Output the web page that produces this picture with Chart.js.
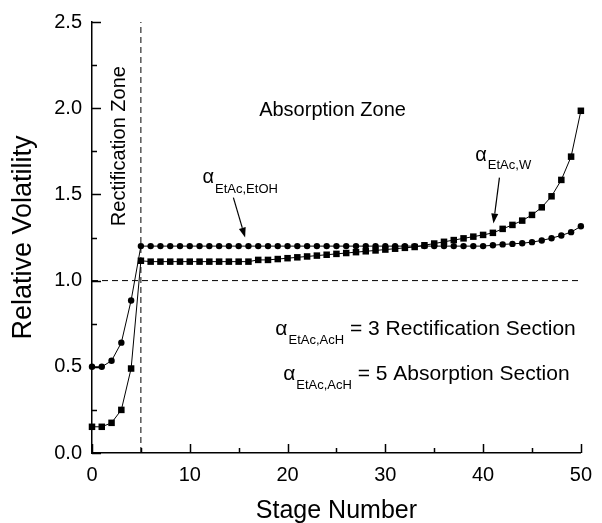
<!DOCTYPE html>
<html>
<head>
<meta charset="utf-8">
<title>Relative Volatility vs Stage Number</title>
<script src="https://cdn.jsdelivr.net/npm/chart.js@4.4.1/dist/chart.umd.min.js"></script>
<style>
  html, body { margin: 0; padding: 0; background: #fff; }
  #wrap { width: 602px; height: 523px; }
</style>
</head>
<body>
<div id="wrap"><canvas id="chart" width="602" height="523"></canvas></div>
<script>
// --- data ---
const stages = [0, 1, 2, 3, 4, 5, 6, 7, 8, 9, 10, 11, 12, 13, 14, 15, 16, 17, 18, 19, 20,
  21, 22, 23, 24, 25, 26, 27, 28, 29, 30, 31, 32, 33, 34, 35, 36, 37, 38, 39, 40,
  41, 42, 43, 44, 45, 46, 47, 48, 49, 50];

// alpha EtAc,EtOH (circles)
const alphaEtOH = [0.50, 0.50, 0.535, 0.64, 0.885, 1.20, 1.20, 1.20, 1.20, 1.20, 1.20,
  1.20, 1.20, 1.20, 1.20, 1.20, 1.20, 1.20, 1.20, 1.20, 1.20,
  1.20, 1.20, 1.20, 1.20, 1.20, 1.20, 1.20, 1.20, 1.20, 1.20,
  1.20, 1.20, 1.20, 1.20, 1.20, 1.20, 1.20, 1.20, 1.20, 1.20,
  1.205, 1.21, 1.213, 1.217, 1.223, 1.233, 1.246, 1.262, 1.281, 1.315];

// alpha EtAc,W (squares)
const alphaWater = [0.152, 0.152, 0.175, 0.25, 0.49, 1.115, 1.11, 1.11, 1.11, 1.11, 1.11,
  1.11, 1.11, 1.11, 1.11, 1.11, 1.11, 1.12, 1.12, 1.125, 1.13,
  1.135, 1.14, 1.145, 1.15, 1.155, 1.16, 1.165, 1.17, 1.175, 1.18,
  1.185, 1.19, 1.195, 1.205, 1.215, 1.225, 1.235, 1.245, 1.255, 1.265,
  1.277, 1.30, 1.323, 1.348, 1.381, 1.425, 1.489, 1.584, 1.719, 1.985];

const feedStage = 5;       // vertical dashed line
const unityAlpha = 1.0;    // horizontal dashed line

const xMajorStep = 10;
const yMajorStep = 0.5;

const FONT = '"Liberation Sans", Arial, Helvetica, sans-serif';

function toPoints(xs, ys) {
  return xs.map((x, i) => ({ x: x, y: ys[i] }));
}

// tick marks pointing into the plot, drawn at the scale's own tick positions
const innerTicks = {
  id: 'innerTicks',
  afterDraw(chart) {
    const ctx = chart.ctx;
    const area = chart.chartArea;
    const xs = chart.scales.x, ys = chart.scales.y;
    ctx.save();
    ctx.strokeStyle = '#000';
    ctx.lineWidth = 1.5;
    ctx.beginPath();
    ys.ticks.forEach(t => {
      const py = Math.round(ys.getPixelForValue(t.value)) + 0.5;
      const len = (t.value % yMajorStep === 0) ? 9 : 5;
      ctx.moveTo(area.left, py);
      ctx.lineTo(area.left + len, py);
    });
    xs.ticks.forEach(t => {
      const px = Math.round(xs.getPixelForValue(t.value)) + 0.5;
      const len = (t.value % xMajorStep === 0) ? 9 : 5;
      ctx.moveTo(px, area.bottom);
      ctx.lineTo(px, area.bottom - len);
    });
    ctx.stroke();
    ctx.restore();
  }
};

// text labels and arrows placed in data coordinates
const annotations = {
  id: 'annotations',
  afterDraw(chart) {
    const ctx = chart.ctx;
    const xs = chart.scales.x, ys = chart.scales.y;
    const px = v => xs.getPixelForValue(v);
    const py = v => ys.getPixelForValue(v);
    ctx.save();
    ctx.fillStyle = '#000';
    ctx.strokeStyle = '#000';

    // Absorption Zone
    ctx.font = '20px ' + FONT;
    ctx.textAlign = 'center';
    ctx.textBaseline = 'middle';
    ctx.fillText('Absorption Zone', px(24.6), py(1.985));

    // Rectification Zone (rotated)
    ctx.save();
    ctx.translate(px(2.8), py(1.78));
    ctx.rotate(-Math.PI / 2);
    ctx.fillText('Rectification Zone', 0, 0);
    ctx.restore();

    // alpha with subscript, then optional trailing text
    function alphaLabel(x, y, sub, tail, mainSize, subDrop) {
      ctx.textAlign = 'left';
      ctx.textBaseline = 'alphabetic';
      let cx = px(x);
      const by = py(y);
      ctx.font = mainSize + 'px ' + FONT;
      ctx.fillText('\u03B1', cx, by);
      cx += ctx.measureText('\u03B1').width + 1;
      ctx.font = '13px ' + FONT;
      ctx.fillText(sub, cx, by + subDrop);
      cx += ctx.measureText(sub).width;
      if (tail) {
        ctx.font = mainSize + 'px ' + FONT;
        ctx.fillText(tail, cx, by);
      }
    }
    alphaLabel(11.3, 1.568, 'EtAc,EtOH', '', 20, 10);
    alphaLabel(39.2, 1.696, 'EtAc,W', '', 20, 8);
    alphaLabel(18.75, 0.683, 'EtAc,AcH', ' = 3 Rectification Section', 21, 9);
    alphaLabel(19.55, 0.422, 'EtAc,AcH', ' = 5 Absorption Section', 21, 9);

    // arrows
    function arrow(x1, y1, x2, y2) {
      const ax = px(x1), ay = py(y1), bx = px(x2), by = py(y2);
      const ang = Math.atan2(by - ay, bx - ax);
      const head = 10, half = 3.5;
      const hx = bx - head * Math.cos(ang), hy = by - head * Math.sin(ang);
      ctx.lineWidth = 1.2;
      ctx.beginPath();
      ctx.moveTo(ax, ay);
      ctx.lineTo(hx, hy);
      ctx.stroke();
      ctx.beginPath();
      ctx.moveTo(bx, by);
      ctx.lineTo(hx + half * Math.sin(ang), hy - half * Math.cos(ang));
      ctx.lineTo(hx - half * Math.sin(ang), hy + half * Math.cos(ang));
      ctx.closePath();
      ctx.fill();
    }
    arrow(14.46, 1.481, 15.66, 1.25);
    arrow(41.67, 1.597, 41.06, 1.331);

    ctx.restore();
  }
};

const dashStyle = {
  type: 'line',
  borderColor: '#000',
  borderWidth: 1,
  borderDash: [6, 4],
  pointRadius: 0,
  fill: false
};

new Chart(document.getElementById('chart'), {
  type: 'line',
  data: {
    datasets: [
      Object.assign({}, dashStyle, {
        label: 'feed stage',
        data: [{ x: feedStage, y: 0 }, { x: feedStage, y: 2.5 }]
      }),
      Object.assign({}, dashStyle, {
        label: 'alpha = 1',
        data: [{ x: 0, y: unityAlpha }, { x: 50, y: unityAlpha }]
      }),
      {
        label: 'alpha EtAc,EtOH',
        data: toPoints(stages, alphaEtOH),
        borderColor: '#000',
        backgroundColor: '#000',
        borderWidth: 1,
        pointStyle: 'circle',
        pointRadius: 3.2,
        pointBorderWidth: 0,
        tension: 0,
        clip: false
      },
      {
        label: 'alpha EtAc,W',
        data: toPoints(stages, alphaWater),
        borderColor: '#000',
        backgroundColor: '#000',
        borderWidth: 1,
        pointStyle: 'rect',
        pointRadius: 4.6,
        pointBorderWidth: 0,
        tension: 0,
        clip: false
      }
    ]
  },
  options: {
    responsive: false,
    animation: false,
    events: [],
    layout: { padding: { left: 0, top: 21, right: 12, bottom: 0 } },
    plugins: {
      legend: { display: false },
      tooltip: { enabled: false }
    },
    scales: {
      x: {
        type: 'linear',
        min: 0,
        max: 50,
        grid: { display: true, drawOnChartArea: false, drawTicks: false },
        border: { display: true, color: '#000', width: 1.5 },
        ticks: {
          stepSize: 5,
          autoSkip: false,
          maxRotation: 0,
          padding: 10,
          color: '#000',
          font: { family: FONT, size: 20 },
          callback: v => (v % xMajorStep === 0 ? String(v) : '')
        },
        title: {
          display: true,
          text: 'Stage Number',
          color: '#000',
          font: { family: FONT, size: 25, lineHeight: 1 },
          padding: { top: 0, bottom: -1 }
        },
        afterFit: s => { s.height = 70; }
      },
      y: {
        type: 'linear',
        min: 0,
        max: 2.5,
        grid: { display: true, drawOnChartArea: false, drawTicks: false },
        border: { display: true, color: '#000', width: 1.5 },
        ticks: {
          stepSize: 0.25,
          autoSkip: false,
          padding: 10,
          color: '#000',
          font: { family: FONT, size: 20 },
          callback: v => (v % yMajorStep === 0 ? v.toFixed(1) : '')
        },
        title: {
          display: true,
          text: 'Relative Volatility',
          color: '#000',
          font: { family: FONT, size: 27, lineHeight: 1 },
          padding: { top: 10, bottom: 0 }
        },
        afterFit: s => { s.width = 92; }
      }
    }
  },
  plugins: [innerTicks, annotations]
});
</script>
</body>
</html>
